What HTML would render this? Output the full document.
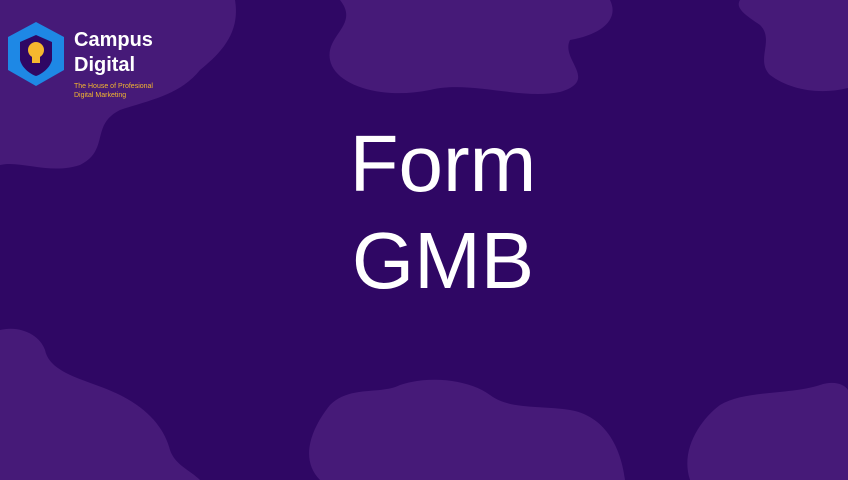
<!DOCTYPE html>
<html><head><meta charset="utf-8"><style>
html,body{margin:0;padding:0}
body{width:848px;height:480px;overflow:hidden;background:#2f0764;position:relative;font-family:"Liberation Sans",sans-serif}
svg{position:absolute;left:0;top:0}
.title{position:absolute;left:19px;width:848px;text-align:center;color:#fff;font-size:80px;line-height:90px}
</style></head><body>
<svg width="848" height="480">
<g fill="#461a78">
<path d="M0,0 L235,0 C240,30 225,50 200,70 C180,95 150,100 120,110 C90,125 110,150 80,165 C50,175 20,160 0,165 Z"/>
<path d="M340,0 L610,0 C620,20 600,35 570,40 C560,60 600,80 560,92 C520,100 470,80 430,90 C380,100 335,85 330,60 C325,35 360,25 340,0 Z"/>
<path d="M740,0 L848,0 L848,88 C820,95 790,90 770,75 C755,60 775,40 760,25 C745,15 735,8 740,0 Z"/>
<path d="M0,330 C20,325 40,335 45,350 C50,375 90,380 120,395 C150,410 165,430 170,450 C175,465 190,470 200,480 L0,480 Z"/>
<path d="M320,480 C300,460 310,430 330,405 C350,385 380,395 400,385 C430,375 470,380 490,395 C510,410 540,405 570,410 C600,415 620,440 625,480 Z"/>
<path d="M690,480 C680,450 700,420 720,405 C745,390 790,395 820,385 C835,380 845,385 848,390 L848,480 Z"/>
</g>
</svg>
<svg width="180" height="100">
<polygon points="36,22 64,37 64,70 36,86 8,70 8,37" fill="#1e88e5"/>
<path d="M20,42 L36,35 L52,42 L52,60 C50,68 42,74 36,76 C30,74 22,68 20,60 Z" fill="#2f0764"/>
<circle cx="36" cy="50" r="8" fill="#f5b82e"/>
<rect x="32" y="56" width="8" height="7" fill="#f5b82e"/>
<text x="74" y="46" fill="#fff" font-size="20" font-family="Liberation Sans" font-weight="bold">Campus</text>
<text x="74" y="71" fill="#fff" font-size="20" font-family="Liberation Sans" font-weight="bold">Digital</text>
<text x="74" y="88" fill="#f5b82e" font-size="7" font-family="Liberation Sans">The House of Profesional</text>
<text x="74" y="97" fill="#f5b82e" font-size="7" font-family="Liberation Sans">Digital Marketing</text>
</svg>
<div class="title" style="top:119px">Form</div>
<div class="title" style="top:216px">GMB</div>
</body></html>
